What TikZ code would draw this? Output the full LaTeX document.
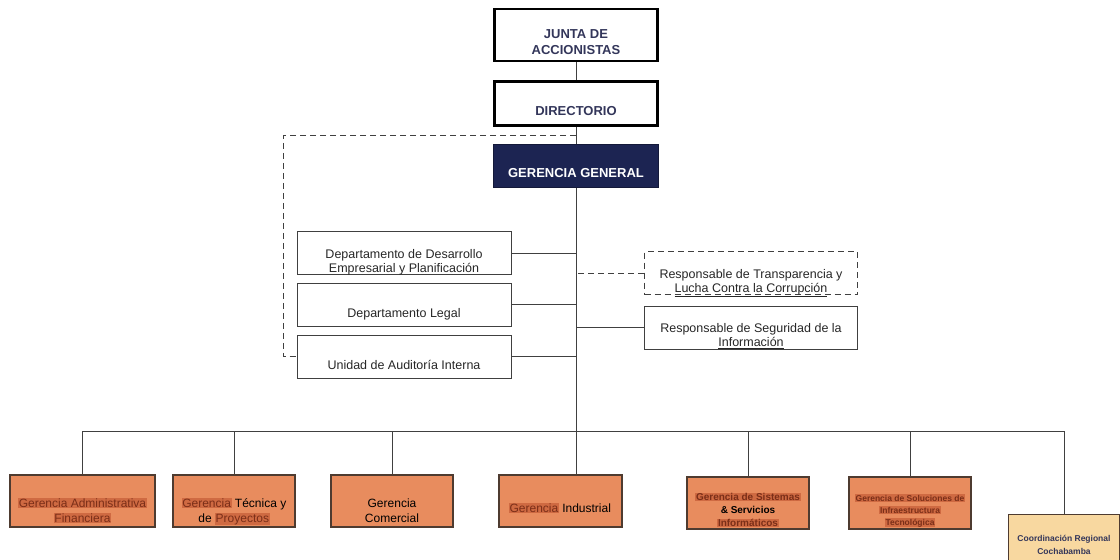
\documentclass[tikz,border=0pt]{standalone}
\usepackage{fontspec}
\setmainfont{Liberation Sans}
\usetikzlibrary{positioning,calc}
\definecolor{orgnavy}{HTML}{1C2452}
\definecolor{orgtext}{HTML}{33365A}
\definecolor{orgline}{HTML}{404040}
\definecolor{orgorange}{HTML}{E88C5E}
\definecolor{orgborde}{HTML}{4E3B30}
\definecolor{orgresalte}{HTML}{CF6A42}
\definecolor{orgrojo}{HTML}{7A2E18}
\definecolor{orgcrema}{HTML}{F8D8A0}
\newcommand{\resalte}[1]{{\setlength{\fboxsep}{0.6pt}\colorbox{orgresalte}{\color{orgrojo}#1}}}
\tikzset{
  topbox/.style={draw=black,line width=2.6pt,minimum width=163pt,align=center,
                 font=\fontsize{13}{16}\selectfont\bfseries,text=orgtext,
                 inner ysep=0pt,text height=24pt,text depth=0pt},
  unitbox/.style={draw=orgline,line width=0.9pt,minimum width=214pt,minimum height=43pt,
                  align=center,font=\fontsize{12.5}{14}\selectfont,text=black!85,
                  inner ysep=0pt,text height=38pt,text depth=0pt},
  gerbox/.style={draw=orgborde,line width=2pt,fill=orgorange,minimum width=122pt,
                 minimum height=52pt,align=center,font=\fontsize{12}{15}\selectfont,
                 inner ysep=0pt,text height=42pt,text depth=0pt},
  ln/.style={orgline,line width=0.9pt},
  lnd/.style={ln,dash pattern=on 6pt off 4pt},
}

\begin{document}
\begin{tikzpicture}[x=1pt,y=-1pt,
  ggbox/.style={topbox,draw=orgnavy!70!black,line width=1pt,fill=orgnavy,text=white,
                minimum width=165pt,minimum height=43pt},
  smallger/.style={gerbox,font=\fontsize{10}{13}\selectfont\bfseries,text height=47pt}]
\useasboundingbox (0,0) rectangle (1120,560);

\node[topbox,minimum height=52pt,text height=39pt] (junta) at (576,35) {JUNTA DE\\ACCIONISTAS};
\node[topbox,minimum height=44pt,below=18pt of junta] (dir) {DIRECTORIO};
\node[ggbox,below=17pt of dir] (gg) {GERENCIA GENERAL};

\node[unitbox,text height=39pt] (desa) at (404,253) {Departamento de Desarrollo\\Empresarial y Planificación};
\node[unitbox,text height=25pt,below=8pt of desa] (legal) {Departamento Legal};
\node[unitbox,text height=26pt,below=8pt of legal] (audit) {Unidad de Auditoría Interna};

\node[unitbox,dash pattern=on 6pt off 4pt,minimum width=213pt,text height=39pt] (transp) at (751,273)
  {Responsable de Transparencia y\\\underline{Lucha Contra la Corrupción}};
\node[unitbox,minimum width=213pt,below=11pt of transp] (segur)
  {Responsable de Seguridad de la\\\underline{Información}};

\node[gerbox,minimum width=145pt] (gaf) at (82.5,501)
  {\resalte{Gerencia Administrativa}\\\resalte{Financiera}};
\node[gerbox] (gtp) at (234,501) {\resalte{Gerencia} Técnica y\\de \resalte{Proyectos}};
\node[gerbox] (gcom) at (392,501) {Gerencia\\Comercial};
\node[gerbox,minimum width=123pt,text height=23pt] (gind) at (560,501) {\resalte{Gerencia} Industrial};
\node[smallger] (gssi) at (748,503)
  {\resalte{Gerencia de Sistemas}\\\& Servicios\\\resalte{Informáticos}};
\node[smallger,font=\fontsize{8.5}{12}\selectfont\bfseries,text height=44pt] (gsit) at (910,503)
  {\resalte{Gerencia de Soluciones de}\\\resalte{Infraestructura}\\\resalte{Tecnológica}};
\node[gerbox,fill=orgcrema,line width=1pt,minimum width=111pt,minimum height=50pt,
      font=\fontsize{8.5}{13}\selectfont\bfseries,text=orgtext,text height=30pt] (coord) at (1064,539)
  {Coordinación Regional\\Cochabamba};

% linea principal
\draw[ln] (junta) -- (dir);
\draw[ln] (dir) -- (gg);
\draw[ln] (gg.south) -- (gg.south |- gind.north);

\foreach \d in {desa,legal,audit}
  \draw[ln] (\d.east) -- (\d.east -| gg.south);
\draw[ln] (segur.west) -- (segur.west -| gg.south);
\draw[lnd] (transp.west) -- (transp.west -| gg.south);

\coordinate (dtop) at ($(dir.south)!0.5!(gg.north)$);
\draw[lnd] (dtop) -| ($(audit.west)+(-13,0)$) -- (audit.west);

% gerencias de area
\coordinate (bus) at (0,431);
\draw[ln] (gaf.north) |- (bus -| coord.north) -- (coord.north);
\foreach \g in {gtp,gcom,gssi,gsit}
  \draw[ln] (\g.north) -- (\g.north |- bus);

\end{tikzpicture}
\end{document}
